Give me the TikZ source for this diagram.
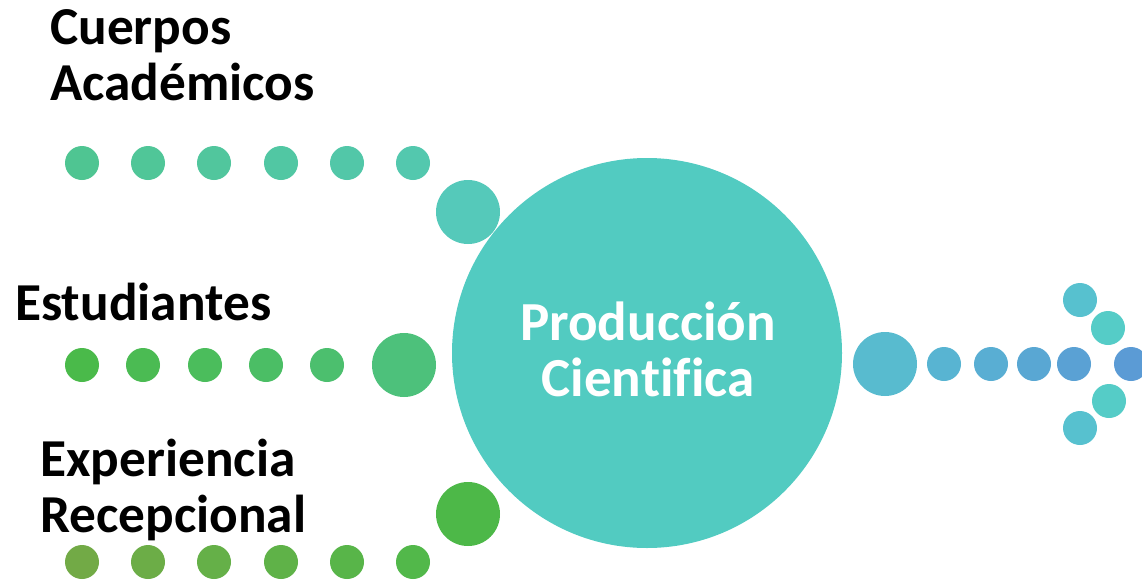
\documentclass[tikz,border=0pt]{standalone}
\usepackage{fontspec}
\setmainfont[Ligatures=NoCommon]{Carlito}
\usetikzlibrary{positioning}

\definecolor{hubteal}{HTML}{52CBC1}
\definecolor{cuerposA}{HTML}{4FC592}
\definecolor{cuerposB}{HTML}{53C8AE}
\definecolor{cuerposbig}{HTML}{55C9BA}
\definecolor{estudA}{HTML}{4ABA4A}
\definecolor{estudB}{HTML}{4CBF6E}
\definecolor{estudbig}{HTML}{4DC17B}
\definecolor{expA}{HTML}{72AA46}
\definecolor{expB}{HTML}{52B84A}
\definecolor{expbig}{HTML}{4DB848}
\definecolor{outbig}{HTML}{58BBCF}
\definecolor{outA}{HTML}{58B4D2}
\definecolor{outB}{HTML}{5B9BD5}
\definecolor{headA}{HTML}{57C1CF}
\definecolor{headB}{HTML}{55CCC7}

\begin{document}
\begin{tikzpicture}
  [x=0.75pt,y=-0.75pt,
   dot/.style={circle,inner sep=0pt,minimum size=25.5pt},
   bigdot/.style={circle,inner sep=0pt,minimum size=48pt},
   heading/.style={font=\fontsize{40}{42}\selectfont\bfseries,inner sep=0pt,anchor=base west,align=left}]
  \useasboundingbox (0,0) rectangle (1142,582);

  % central circle
  \node[circle,inner sep=0pt,minimum size=292.5pt,fill=hubteal] (prod) at (647,353) {};
  \node[font=\fontsize{41.3}{42}\selectfont\bfseries,text=white,align=center,inner sep=0pt] (prodtext) at (648,349)
        {Producci\'on\\Cientifica};

  % Cuerpos Academicos
  \node[heading] (cuerpos) at (50,100) {Cuerpos\\Acad\'emicos};
  \foreach \i/\x in {1/82,2/148,3/214,4/281,5/347,6/413}
    {\pgfmathsetmacro\p{(\i-1)*20}
     \node[dot,fill=cuerposB!\p!cuerposA] (c\i) at (\x,163) {};}
  \node[bigdot,fill=cuerposbig] (cbig) at (468,212) {};

  % Estudiantes
  \node[heading] (estud) at (15,320) {Estudiantes};
  \foreach \i/\x in {1/82,2/143,3/205,4/266,5/327}
    {\pgfmathsetmacro\p{(\i-1)*25}
     \node[dot,fill=estudB!\p!estudA] (e\i) at (\x,365) {};}
  \node[bigdot,fill=estudbig] (ebig) at (404,365) {};

  % Experiencia Recepcional
  \node[heading] (exper) at (40,532) {Experiencia\\Recepcional};
  \foreach \i/\x in {1/82,2/148,3/214,4/281,5/347,6/413}
    {\pgfmathsetmacro\p{(\i-1)*20}
     \node[dot,fill=expB!\p!expA] (x\i) at (\x,562) {};}
  \node[bigdot,fill=expbig] (xbig) at (468,514) {};

  % output arrow
  \node[bigdot,fill=outbig] (obig) at (885,364) {};
  \foreach \i/\x in {1/944,2/991,3/1034,4/1074,5/1131}
    {\pgfmathsetmacro\p{(\i-1)*25}
     \node[dot,fill=outB!\p!outA] (o\i) at (\x,364) {};}
  \node[dot,fill=headA] (h1) at (1080,300) {};
  \node[dot,fill=headB] (h2) at (1108,328) {};
  \node[dot,fill=headB] (h3) at (1109,401) {};
  \node[dot,fill=headA] (h4) at (1080,428) {};

\end{tikzpicture}
\end{document}
